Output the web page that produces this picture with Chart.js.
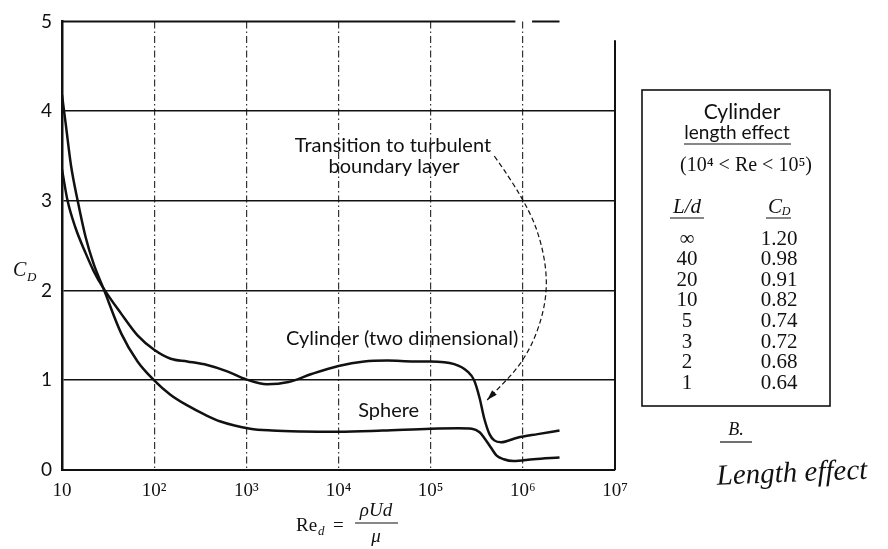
<!DOCTYPE html>
<html>
<head>
<meta charset="utf-8">
<title>Drag coefficient - cylinder and sphere</title>
<script src="https://cdn.jsdelivr.net/npm/chart.js@4.4.0/dist/chart.umd.min.js"></script>
<style>
  body { margin: 0; background: #fff; }
  #wrap { width: 888px; height: 549px; }
</style>
</head>
<body>
<div id="wrap"><canvas id="cdChart"></canvas></div>
<script>
// values (Re_d, C_D)
var sphereRe = [10, 11, 12.5, 14.8, 18, 22, 28, 44, 66, 100, 150, 229, 350, 525, 1100, 1900, 4000, 1e4, 3e4, 1e5, 2e5, 2.8e5, 3.4e5, 3.8e5, 4.5e5, 5.2e5, 6.2e5, 7.9e5, 1.3e6, 2.5e6];
var sphereCd = [4.18, 3.85, 3.4, 3.0, 2.6, 2.3, 2.03, 1.52, 1.21, 1.0, 0.84, 0.72, 0.62, 0.54, 0.46, 0.44, 0.43, 0.427, 0.44, 0.46, 0.465, 0.46, 0.42, 0.36, 0.25, 0.16, 0.12, 0.10, 0.12, 0.14];

var cylRe = [10, 11.5, 14, 18, 22, 28, 44, 66, 100, 151, 229, 376, 620, 1000, 1670, 2870, 5100, 1e4, 1.9e4, 3.4e4, 6.6e4, 1e5, 1.8e5, 2.5e5, 2.96e5, 3.4e5, 3.8e5, 4.35e5, 4.9e5, 5.8e5, 8.7e5, 1.45e6, 2.5e6];
var cylCd = [3.35, 3.0, 2.7, 2.42, 2.22, 2.03, 1.74, 1.50, 1.34, 1.24, 1.21, 1.17, 1.10, 1.01, 0.955, 0.98, 1.07, 1.16, 1.21, 1.22, 1.21, 1.21, 1.18, 1.10, 1.0, 0.80, 0.58, 0.40, 0.33, 0.31, 0.36, 0.40, 0.44];

var yTicks = [0, 1, 2, 3, 4, 5];
var xTickValues = [10, 1e2, 1e3, 1e4, 1e5, 1e6, 1e7];
var xTickLabels = ['10', '10²', '10³', '10⁴', '10⁵', '10⁶', '10⁷'];

// cylinder length effect table
var lengthRatio = ['∞', '40', '20', '10', '5', '3', '2', '1'];
var lengthCd = ['1.20', '0.98', '0.91', '0.82', '0.74', '0.72', '0.68', '0.64'];

// annotation anchors in data space
var arrowRe = [4.9e5, 1.09e6, 1.75e6, 1.84e6, 1.11e6, 4.1e5];
var arrowCd = [3.50, 3.00, 2.41, 1.86, 1.24, 0.78];

function toPoints(xs, ys) {
  return xs.map(function (x, i) { return { x: x, y: ys[i] }; });
}

var serif = '"Liberation Serif", "DejaVu Serif", serif';
var sans = 'Lato, "Open Sans", sans-serif';

var annotate = {
  id: 'annotate',
  afterDraw: function (chart) {
    var ctx = chart.ctx, xs = chart.scales.x, ys = chart.scales.y;
    var area = chart.chartArea;
    function X(v) { return xs.getPixelForValue(v); }
    function Y(v) { return ys.getPixelForValue(v); }
    ctx.save();
    ctx.fillStyle = '#111';
    ctx.strokeStyle = '#111';

    // broken top edge and right edge of the frame
    ctx.lineWidth = 2;
    ctx.beginPath();
    ctx.moveTo(area.left, Y(5)); ctx.lineTo(X(8.3e5), Y(5));
    ctx.moveTo(X(1.26e6), Y(5)); ctx.lineTo(X(2.5e6), Y(5));
    ctx.moveTo(area.right, Y(4.79)); ctx.lineTo(area.right, area.bottom);
    ctx.stroke();

    // curve labels
    ctx.font = '20px ' + sans;
    ctx.textAlign = 'center';
    ctx.textBaseline = 'middle';
    ctx.fillText('Transition to turbulent', X(3.9e4), Y(3.62));
    ctx.fillText('boundary layer', X(4.0e4), Y(3.38));
    ctx.fillText('Cylinder (two dimensional)', X(4.9e4), Y(1.47));
    ctx.fillText('Sphere', X(3.5e4), Y(0.66));

    // dashed arrow to the cylinder drop
    var p = arrowRe.map(function (r, i) { return [X(r), Y(arrowCd[i])]; });
    ctx.setLineDash([5, 3]);
    ctx.lineWidth = 1.2;
    ctx.beginPath();
    ctx.moveTo(p[0][0], p[0][1]);
    for (var i = 1; i < p.length - 1; i++) {
      var mx = (p[i][0] + p[i + 1][0]) / 2, my = (p[i][1] + p[i + 1][1]) / 2;
      ctx.quadraticCurveTo(p[i][0], p[i][1], mx, my);
    }
    var last = p[p.length - 1], prev = p[p.length - 2];
    ctx.lineTo(last[0], last[1]);
    ctx.stroke();
    ctx.setLineDash([]);
    var ang = Math.atan2(last[1] - (prev[1] + last[1]) / 2, last[0] - (prev[0] + last[0]) / 2);
    ctx.beginPath();
    ctx.moveTo(last[0], last[1]);
    ctx.lineTo(last[0] - 11 * Math.cos(ang - 0.3), last[1] - 11 * Math.sin(ang - 0.3));
    ctx.lineTo(last[0] - 11 * Math.cos(ang + 0.3), last[1] - 11 * Math.sin(ang + 0.3));
    ctx.closePath();
    ctx.fill();

    // axis titles
    ctx.textAlign = 'left';
    ctx.textBaseline = 'alphabetic';
    ctx.font = 'italic 20px ' + serif;
    ctx.fillText('C', 13, 276);
    ctx.font = 'italic 13px ' + serif;
    ctx.fillText('D', 27, 281);

    ctx.font = '19px ' + serif;
    ctx.fillText('Re', 296, 531);
    ctx.font = 'italic 13px ' + serif;
    ctx.fillText('d', 318, 535);
    ctx.font = '19px ' + serif;
    ctx.fillText('=', 333, 531);
    ctx.textAlign = 'center';
    ctx.font = 'italic 19px ' + serif;
    ctx.fillText('ρUd', 376, 516);
    ctx.fillText('μ', 376, 542);
    ctx.lineWidth = 1.2;
    ctx.beginPath();
    ctx.moveTo(355, 523); ctx.lineTo(398, 523);
    ctx.stroke();

    // length effect table
    ctx.lineWidth = 1.6;
    ctx.strokeRect(642, 90, 188, 316);
    ctx.textBaseline = 'middle';
    ctx.font = '21px ' + sans;
    ctx.fillText('Cylinder', 742, 112);
    ctx.font = '19px ' + sans;
    ctx.fillText('length effect', 737, 133);
    ctx.lineWidth = 1.2;
    ctx.beginPath();
    ctx.moveTo(684, 144); ctx.lineTo(791, 144);
    ctx.moveTo(670, 218); ctx.lineTo(704, 218);
    ctx.moveTo(766, 218); ctx.lineTo(791, 218);
    ctx.stroke();
    ctx.font = '20px ' + serif;
    ctx.fillText('(10⁴ < Re < 10⁵)', 746, 166);
    ctx.font = 'italic 21px ' + serif;
    ctx.fillText('L/d', 687, 207);
    ctx.fillText('C', 775, 207);
    ctx.font = 'italic 12px ' + serif;
    ctx.fillText('D', 786, 212);
    ctx.font = '21px ' + serif;
    lengthRatio.forEach(function (t, i) {
      ctx.fillText(t, 687, 239 + i * 20.6);
      ctx.fillText(lengthCd[i], 779, 239 + i * 20.6);
    });

    // handwritten note under the table
    ctx.font = 'italic 18px ' + serif;
    ctx.fillText('B.', 736, 430);
    ctx.beginPath();
    ctx.moveTo(720, 442); ctx.lineTo(752, 442);
    ctx.stroke();
    ctx.translate(792, 474);
    ctx.rotate(-0.04);
    ctx.font = 'italic 29px ' + serif;
    ctx.fillText('Length effect', 0, 0);
    ctx.restore();
  }
};

new Chart(document.getElementById('cdChart'), {
  type: 'line',
  data: {
    datasets: [
      { label: 'Cylinder (two dimensional)', data: toPoints(cylRe, cylCd) },
      { label: 'Sphere', data: toPoints(sphereRe, sphereCd) }
    ]
  },
  options: {
    responsive: true,
    maintainAspectRatio: false,
    animation: false,
    layout: { padding: { top: 14, right: 273, left: 0, bottom: 0 } },
    elements: {
      point: { radius: 0 },
      line: { borderColor: '#111', borderWidth: 2.5, cubicInterpolationMode: 'monotone', fill: false }
    },
    plugins: { legend: { display: false }, tooltip: { enabled: false } },
    scales: {
      x: {
        type: 'logarithmic',
        min: 10,
        max: 1e7,
        afterBuildTicks: function (scale) {
          scale.ticks = xTickValues.map(function (v) { return { value: v }; });
        },
        afterFit: function (scale) { scale.height = 79; },
        ticks: {
          autoSkip: false,
          maxRotation: 0,
          padding: 10,
          color: '#111',
          font: { family: serif, size: 19 },
          callback: function (v) {
            var i = xTickValues.indexOf(v);
            return i < 0 ? '' : xTickLabels[i];
          }
        },
        grid: {
          drawTicks: false,
          lineWidth: 1.2,
          color: function (c) {
            var v = c.tick && c.tick.value;
            return (v === 10 || v === 1e7) ? 'rgba(0,0,0,0)' : '#333';
          }
        },
        border: { display: true, color: '#111', width: 2, dash: [7, 3, 1.5, 3] }
      },
      y: {
        min: 0,
        max: 5,
        afterBuildTicks: function (scale) {
          scale.ticks = yTicks.map(function (v) { return { value: v }; });
        },
        afterFit: function (scale) { scale.width = 62; },
        ticks: {
          padding: 10,
          color: '#111',
          font: { family: sans, size: 19 }
        },
        grid: {
          drawTicks: false,
          lineWidth: 1.6,
          color: function (c) {
            var v = c.tick && c.tick.value;
            return (v === 0 || v === 5) ? 'rgba(0,0,0,0)' : '#111';
          }
        },
        border: { display: true, color: '#111', width: 2.5 }
      }
    }
  },
  plugins: [annotate]
});
</script>
</body>
</html>
